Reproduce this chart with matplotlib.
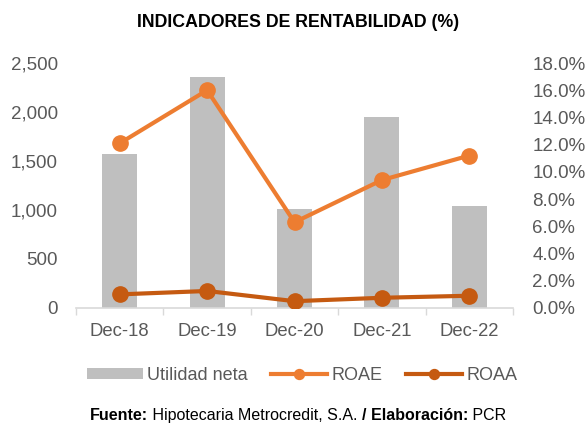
import matplotlib
matplotlib.use("Agg")
import matplotlib.pyplot as plt
import numpy as np
from matplotlib.ticker import FuncFormatter, FixedLocator

plt.rcParams['font.family'] = ['Liberation Sans', 'DejaVu Sans']

years = ['Dec-18', 'Dec-19', 'Dec-20', 'Dec-21', 'Dec-22']
utilidad = [1570, 2360, 1010, 1950, 1040]
roae = [12.1, 16.0, 6.3, 9.4, 11.2]
roaa = [1.0, 1.25, 0.5, 0.75, 0.9]

gray_txt = '#595959'
fig = plt.figure(figsize=(5.87, 4.28), dpi=100)
ax = fig.add_axes([0.1295, 0.2804, 0.7445, 0.5724])
x = np.arange(len(years))
ax.bar(x, utilidad, width=0.4, color='#BFBFBF', label='Utilidad neta', zorder=1)
ax.set_xlim(-0.5, len(years) - 0.5)
ax.set_ylim(0, 2500)
ax.set_yticks(range(0, 2501, 500))
ax.yaxis.set_major_formatter(FuncFormatter(lambda v, p: f'{v:,.0f}'))
ax.set_xticks(x)
ax.set_xticklabels(years)
ax.xaxis.set_minor_locator(FixedLocator(np.arange(-0.5, len(years), 1)))
ax.tick_params(axis='x', which='major', length=0, pad=11, labelsize=13.3, labelcolor=gray_txt)
ax.tick_params(axis='x', which='minor', length=5, color='#D9D9D9', width=1)
ax.tick_params(axis='y', length=0, labelsize=13.5, labelcolor=gray_txt, pad=13)
for s in ['top', 'right', 'left']:
    ax.spines[s].set_visible(False)
ax.spines['bottom'].set_color('#D9D9D9')
ax.spines['bottom'].set_linewidth(1.2)

ax2 = ax.twinx()
ax2.plot(x, roae, color='#ED7D31', lw=3, marker='o', ms=11, label='ROAE', zorder=3)
ax2.plot(x, roaa, color='#C55A11', lw=3, marker='o', ms=11, label='ROAA', zorder=3)
ax2.set_ylim(0, 18)
ax2.set_yticks(range(0, 19, 2))
ax2.yaxis.set_major_formatter(FuncFormatter(lambda v, p: f'{v:.1f}%'))
ax2.tick_params(axis='y', length=0, labelsize=13.5, labelcolor=gray_txt, pad=14)
for s in ['top', 'right', 'left', 'bottom']:
    ax2.spines[s].set_visible(False)

h1, l1 = ax.get_legend_handles_labels()
h2, l2 = ax2.get_legend_handles_labels()
fig.legend(h1 + h2, l1 + l2, loc='center', bbox_to_anchor=(0.515, 0.123), ncol=3,
           frameon=False, fontsize=13, labelcolor=gray_txt, handlelength=3.1,
           handleheight=0.5, columnspacing=1.3, handletextpad=0.25, markerscale=0.65)

fig.text(0.507, 0.948, 'INDICADORES DE RENTABILIDAD (%)', ha='center', va='center',
         fontsize=12.8, fontweight='bold', color='black')

# footer with mixed weights
parts = [('Fuente:', 'bold'), (' Hipotecaria Metrocredit, S.A. ', 'normal'),
         ('/ Elaboración:', 'bold'), (' PCR', 'normal')]
fig.canvas.draw()
r = fig.canvas.get_renderer()
txts = [fig.text(0, 0.03, p, fontsize=11.5, fontweight=w, va='center') for p, w in parts]
widths = [t.get_window_extent(r).width for t in txts]
total = sum(widths)
cur = 90
for t, w in zip(txts, widths):
    t.set_x(cur / fig.bbox.width)
    cur += w

fig.savefig('out.png', dpi=100)
